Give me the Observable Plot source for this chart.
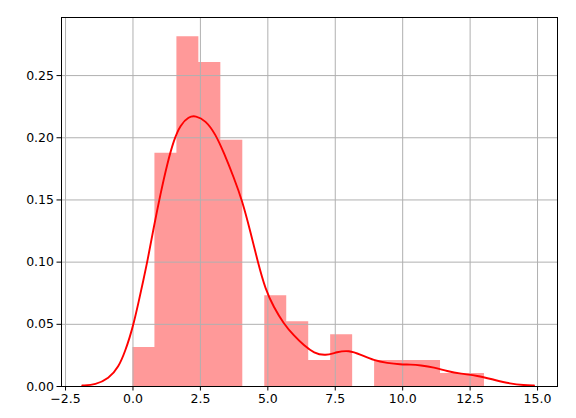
<!DOCTYPE html>
<html>
<head>
<meta charset="utf-8">
<script src="https://cdn.jsdelivr.net/npm/d3@7"></script>
<script src="https://cdn.jsdelivr.net/npm/@observablehq/plot@0.6"></script>
<style>
  html, body { margin: 0; padding: 0; background: white; }
  #chart { width: 576px; height: 418px; overflow: hidden; }
</style>
</head>
<body>
<div id="chart"></div>
<script>
// Histogram bin edges (17) and density heights (16)
const binEdges = [0, 0.814, 1.629, 2.443, 3.258, 4.072, 4.887, 5.701, 6.516, 7.330, 8.145, 8.959, 9.774, 10.588, 11.403, 12.217, 13.032];
const densities = [0.0313, 0.1875, 0.2813, 0.2605, 0.1980, 0, 0.0730, 0.0521, 0.0209, 0.0417, 0, 0.0209, 0.0209, 0.0209, 0.0104, 0.0104];

// KDE curve points
const kdeX = [-1.88, -1.39, -0.90, -0.53, -0.28, -0.12, 0.03, 0.22, 0.38, 0.53, 0.77, 1.02, 1.27, 1.51, 1.76, 2.07, 2.32, 2.69, 3.06, 3.37, 3.74, 4.05, 4.36, 4.63, 4.91, 5.22, 5.59, 5.96, 6.34, 6.71, 7.14, 7.57, 8.00, 8.44, 8.93, 9.43, 9.92, 10.29, 10.66, 11.16, 11.65, 12.15, 12.77, 13.38, 14.00, 14.50, 14.87];
const kdeY = [0.0008, 0.0014, 0.0062, 0.0155, 0.0290, 0.0396, 0.0509, 0.0690, 0.0850, 0.1000, 0.1280, 0.1550, 0.1790, 0.1980, 0.2105, 0.2170, 0.2178, 0.2140, 0.2030, 0.1880, 0.1680, 0.1495, 0.1240, 0.0999, 0.0780, 0.0637, 0.0504, 0.0410, 0.0330, 0.0268, 0.0247, 0.0278, 0.0291, 0.0257, 0.0209, 0.0188, 0.0177, 0.0177, 0.0171, 0.0155, 0.0123, 0.0102, 0.0088, 0.0054, 0.0022, 0.0011, 0.0008];

// Tick values
const xTicks = [-2.5, 0, 2.5, 5, 7.5, 10, 12.5, 15];
const yTicks = [0, 0.05, 0.10, 0.15, 0.20, 0.25];

// step outline of the histogram (one contiguous shape, no seams)
const steps = binEdges.map((e, i) => ({x: e, y: densities[Math.min(i, densities.length - 1)]}));
const kde = kdeX.map((x, i) => ({x, y: kdeY[i]}));

const plot = Plot.plot({
  width: 576,
  height: 418,
  marginLeft: 61,
  marginRight: 19,
  marginTop: 17,
  marginBottom: 32,
  style: {fontFamily: "DejaVu Sans", fontSize: "12.5px", background: "white", color: "black"},
  x: {domain: [-2.65, 15.74], label: null},
  y: {domain: [0, 0.2967], label: null},
  marks: [
    Plot.areaY(steps, {x: "x", y: "y", fill: "#ff9999", curve: "step-after"}),
    Plot.gridX(xTicks, {stroke: "#b0b0b0", strokeOpacity: 1, strokeWidth: 1}),
    Plot.gridY(yTicks, {stroke: "#b0b0b0", strokeOpacity: 1, strokeWidth: 1}),
    Plot.line(kde, {x: "x", y: "y", stroke: "red", strokeWidth: 1.9, curve: "basis"}),
    Plot.frame({stroke: "black", strokeWidth: 1}),
    Plot.axisX({ticks: xTicks, tickFormat: d3.format(".1f"), tickSize: 4.5, tickPadding: 3, label: null, fontSize: 12.5}),
    Plot.axisY({ticks: yTicks, tickFormat: d3.format(".2f"), tickSize: 4.5, tickPadding: 3, label: null, fontSize: 12.5})
  ]
});
document.getElementById("chart").appendChild(plot);
</script>
</body>
</html>
